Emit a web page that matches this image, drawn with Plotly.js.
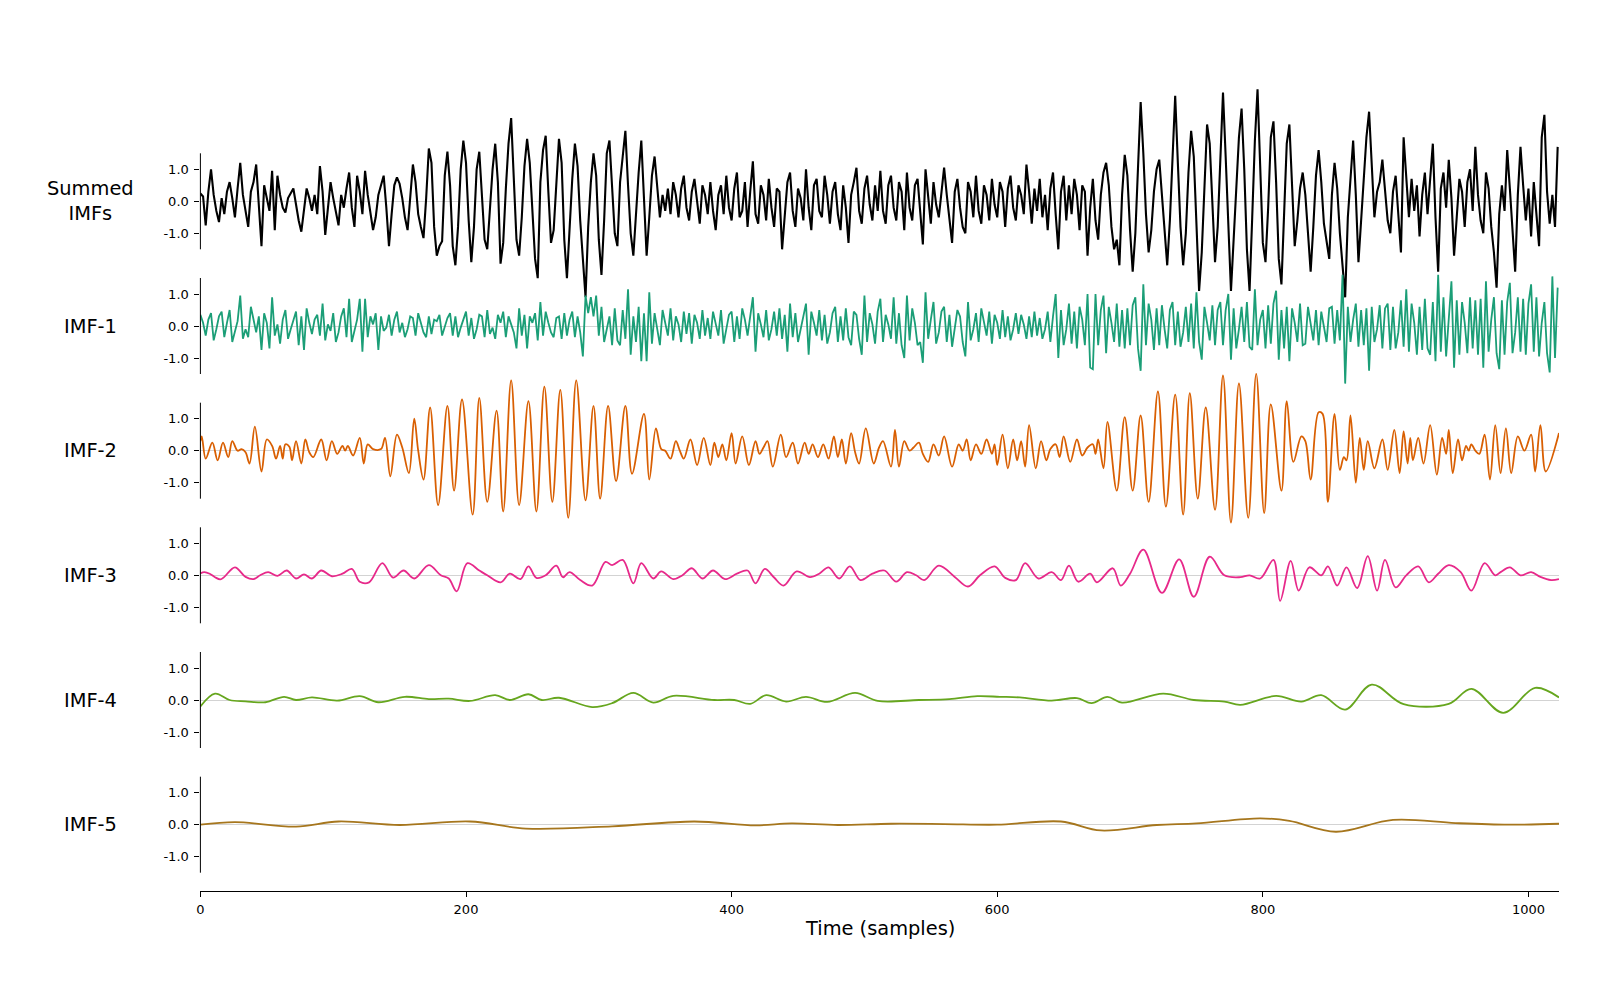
<!DOCTYPE html>
<html>
<head>
<meta charset="utf-8">
<script src="https://cdn.plot.ly/plotly-3.0.1.min.js"></script>
<style>
  html, body { margin: 0; padding: 0; background: #fff; }
  #chart { width: 1600px; height: 1000px; }
</style>
</head>
<body>
<div id="chart"></div>
<script>
// Empirical mode decomposition of a 1024-sample signal: summed IMFs and the five modes.

const rowLabels = ['Summed<br>IMFs', 'IMF-1', 'IMF-2', 'IMF-3', 'IMF-4', 'IMF-5'];
const rowColors = ['#000000', '#1b9e77', '#d95f02', '#e7298a', '#66a61e', '#a6761d'];
const yTickVals = [-1, 0, 1];
const yTickText = ['-1.0', '0.0', '1.0'];
const xTickVals = [0, 200, 400, 600, 800, 1000];
const xTickText = ['0', '200', '400', '600', '800', '1000'];
const xTitle = 'Time (samples)';

// Sample spacing for the densely sampled series (summed IMFs and IMF-1)
const sampleStep = 2;

const summedIMFs = [
  0.25, 0.15, -0.75, 0.3, 1.0, 0.2, -0.3, -0.65, 0.1, -0.4, 0.3, 0.6, 0.1, -0.5, 0.4, 1.2, 0.2, -0.3, -0.8, 0.3, 0.6, 1.15, -0.2, -1.4, 0.5, 0.1, -0.3, 0.95, -0.9, 0.8, 0.2, -0.2,
  -0.35, 0.1, 0.25, 0.4, -0.1, -0.6, -0.95, -0.2, 0.4, 0.1, -0.3, 0.2, -0.4, 1.1, 0.3, -1.05, -0.3, 0.6, 0.1, -0.3, -0.75, 0.2, -0.2, 0.4, 0.9, -0.2, -0.8, 0.8, 0.3, -0.4, 0.95, 0.2,
  -0.3, -0.9, -0.5, 0.2, 0.5, 0.8, -0.2, -1.4, -0.4, 0.5, 0.75, 0.55, 0.1, -0.5, -0.9, 0.2, 1.15, 0.6, -0.4, -0.8, -1.15, 0.1, 1.65, 1.2, -0.8, -1.7, -1.4, -1.25, 0.8, 1.55, 0.5, -1.4,
  -2.0, -0.8, 1.0, 1.9, 1.2, -0.6, -1.9, -0.8, 1.0, 1.55, 0.3, -1.2, -1.5, -0.3, 1.0, 1.8, 0.6, -1.95, -1.3, 0.4, 1.8, 2.6, 0.5, -1.2, -1.7, -0.5, 1.1, 1.95, 1.2, -0.5, -1.8, -2.4,
  0.6, 1.6, 2.05, 0.3, -1.3, -0.9, 0.4, 1.95, 1.2, -1.2, -2.4, -0.8, 0.7, 1.8, 1.1, -0.6, -1.8, -3.0, -0.8, 0.6, 1.5, 0.8, -1.2, -2.3, -0.6, 1.5, 1.9, 0.4, -1.0, -1.4, 0.6, 1.4,
  2.2, 0.5, -1.0, -1.7, -0.3, 0.9, 1.9, 0.2, -1.7, -0.5, 0.8, 1.4, 0.3, -0.5, 0.2, -0.3, 0.4, -0.4, 0.6, 0.2, -0.5, 0.4, 0.8, -0.2, -0.6, 0.3, 0.7, -0.1, -0.7, 0.5, 0.2, -0.4,
  0.6, -0.3, -0.9, 0.2, 0.5, -0.4, 0.8, -0.2, -0.6, 0.4, 0.9, -0.5, -0.3, 0.6, -0.8, 0.3, 1.25, -0.4, -0.7, 0.5, 0.2, -0.6, 0.7, -0.2, -0.8, 0.4, 0.3, -1.5, -0.4, 0.6, 0.9, -0.3,
  -0.8, 0.4, 0.1, -0.6, 1.0, -0.2, -0.9, 0.5, 0.7, -0.3, -0.5, 0.8, 0.2, -0.7, 0.3, 0.6, -0.4, -0.9, 0.5, -0.2, -1.3, 0.2, 0.6, 1.05, -0.3, -0.7, 0.4, 0.8, -0.1, -0.6, 0.5, -0.3,
  0.95, -0.3, -0.7, 0.5, 0.8, -0.2, -0.6, 0.6, 0.3, -0.9, 0.9, -0.2, -0.6, 0.5, 0.7, -0.3, -1.35, 1.0, 0.2, -0.7, 0.6, -0.1, -0.5, 0.4, 1.05, 0.2, -0.6, -1.3, 0.3, 0.7, -0.2, -0.8,
  -1.0, 0.6, 0.3, -0.5, 0.8, -0.3, -0.7, 0.5, 0.2, -0.6, 0.7, -0.1, -0.5, 0.6, 0.3, -0.8, 0.4, 0.8, -0.2, -0.6, 0.5, 0.2, -0.4, 1.15, 0.3, -0.7, 0.4, -0.3, 0.7, -0.5, 0.2, -0.9,
  0.4, 0.9, -0.4, -1.5, 0.3, 0.8, -0.6, 0.5, -0.4, 0.7, 0.2, -0.9, 0.5, 0.3, -1.7, -0.2, 0.7, -0.6, -1.2, 0.2, 0.9, 1.2, 0.5, -0.8, -1.5, -1.2, -2.0, 0.2, 1.45, 0.8, -0.9, -2.2,
  -1.0, 1.2, 3.1, 1.5, -0.4, -1.6, -0.9, 0.3, 1.0, 1.3, 0.2, -1.2, -2.0, -0.6, 1.5, 3.3, 1.2, -0.8, -2.0, -1.0, 0.9, 2.2, 1.4, -0.6, -2.8, -1.6, 0.6, 2.4, 1.8, -0.3, -1.9, -0.8,
  1.2, 3.4, 1.4, -0.8, -2.8, -1.2, 0.5, 2.0, 2.9, 1.0, -1.5, -2.8, -0.5, 1.9, 3.5, 0.8, -1.3, -1.9, -0.2, 2.0, 2.5, 0.6, -1.8, -2.6, -0.3, 1.8, 2.4, 0.3, -1.4, -0.6, 0.4, 0.9,
  0.2, -1.0, -2.2, -0.8, 0.8, 1.6, 0.6, -0.7, -1.2, -1.8, 0.2, 1.2, 0.4, -1.0, -2.0, -3.0, -0.5, 0.8, 1.9, 0.2, -1.9, -0.6, 0.9, 2.0, 2.8, 0.9, -0.5, 0.3, 0.6, 1.3, 0.2, -0.6,
  -1.0, 0.3, 0.8, -0.4, -1.6, 2.0, 0.6, -0.5, 0.7, -0.3, 0.5, -1.1, 0.2, 0.9, -0.4, 0.6, 1.8, -0.5, -2.2, 0.4, 0.9, -0.2, 1.3, 0.1, -1.7, -0.5, 0.7, 0.3, -0.8, 0.6, 1.0, -0.3,
  1.7, 0.2, -0.6, -1.0, 0.9, 0.4, -0.8, -1.6, -2.7, -0.4, 0.5, -0.3, 1.6, 0.4, -0.9, -2.2, 0.2, 1.7, 0.5, -0.6, 0.4, -1.1, 0.6, -0.5, -1.4, 2.0, 2.7, 0.3, -0.7, 0.2, -0.8, 1.7
];

const imf1 = [
  0.35, 0.1, -0.3, 0.2, 0.4, -0.45, -0.1, 0.3, 0.45, -0.35, 0.1, 0.5, -0.5, -0.2, 0.15, 0.95, -0.4, -0.1, -0.35, 0.6, 0.2, -0.2, 0.3, -0.75, 0.4, 0.1, -0.7, 0.9, -0.3, 0.05, -0.55, 0.2,
  0.5, -0.4, -0.1, 0.15, 0.45, -0.6, 0.3, -0.75, 0.55, 0.1, -0.25, 0.2, 0.35, -0.3, 0.7, -0.45, 0.05, -0.15, 0.4, -0.5, -0.2, 0.3, 0.55, -0.35, 0.85, -0.5, -0.1, 0.2, 0.85, -0.8, 0.85, -0.35,
  0.3, 0.05, 0.4, -0.75, 0.3, -0.15, -0.05, 0.35, -0.3, 0.2, 0.45, -0.2, 0.1, -0.35, -0.1, 0.3, 0.25, -0.3, 0.4, 0.1, -0.2, -0.35, 0.3, -0.25, 0.2, 0.15, 0.35, -0.3, -0.05, 0.25, 0.4, -0.3,
  0.3, -0.35, -0.05, 0.2, 0.45, -0.3, 0.25, -0.4, -0.1, 0.35, 0.3, -0.35, 0.5, -0.25, -0.05, -0.4, 0.35, 0.1, 0.45, -0.35, 0.3, 0.05, -0.2, -0.7, 0.55, -0.3, 0.35, -0.7, 0.3, 0.1, 0.4, -0.45,
  0.75, -0.3, 0.45, 0.1, -0.2, -0.35, 0.25, 0.3, -0.4, 0.4, -0.3, 0.2, 0.45, -0.35, 0.3, -0.2, -0.95, 0.95, 0.4, 0.9, 0.3, 0.95, -0.3, 0.6, -0.5, -0.1, 0.3, -0.6, 0.55, -0.45, -0.6, 0.5,
  -0.4, 1.15, -0.9, 0.3, -0.5, 0.6, -1.1, 0.4, -1.1, 1.05, -0.55, 0.4, -0.1, -0.6, 0.5, 0.1, -0.3, 0.55, -0.45, 0.3, 0.05, -0.5, 0.45, -0.25, 0.4, -0.55, 0.35, 0.1, -0.4, 0.5, -0.3, 0.25,
  -0.4, 0.45, 0.1, -0.3, 0.5, -0.55, -0.1, 0.35, 0.45, -0.5, 0.3, -0.4, 0.55, 0.2, -0.3, 0.3, 0.9, -0.8, 0.4, 0.05, -0.35, 0.5, -0.45, -0.1, 0.45, -0.3, 0.55, -0.4, 0.35, -0.8, 0.7, -0.35,
  0.4, -0.5, -0.1, 0.3, 0.7, -0.9, 0.45, 0.1, -0.3, 0.5, -0.45, 0.35, -0.55, -0.2, 0.4, 0.6, -0.5, 0.3, -0.45, 0.55, -0.35, -0.6, 0.45, 0.35, -0.4, -0.9, 0.95, -0.5, 0.4, 0.05, -0.55, 0.45,
  0.85, -0.5, 0.35, 0.05, -0.4, 0.9, -0.55, 0.4, -0.6, -1.0, 0.95, -0.45, 0.55, 0.1, -0.6, -0.5, -1.15, 1.05, -0.4, 0.2, 0.75, -0.55, -0.2, 0.45, 0.6, -0.5, 0.35, -0.65, -0.1, 0.5, 0.3, -0.5,
  -0.95, 0.75, -0.45, -0.1, 0.4, -0.5, 0.55, 0.1, -0.3, 0.45, -0.55, 0.35, 0.1, -0.4, 0.5, -0.35, 0.3, -0.45, -0.1, 0.4, -0.25, 0.35, 0.05, -0.4, 0.3, -0.35, 0.45, -0.3, 0.25, -0.4, -0.1, 0.45,
  -0.5, 0.3, 1.0, -1.0, 0.5, -0.6, -0.1, 0.7, -0.55, 0.45, -0.7, 0.6, 0.2, -0.6, 1.0, -1.3, -1.35, 1.0, -0.6, 0.5, 0.95, -0.85, 0.6, 0.1, -0.5, 0.7, -0.65, 0.5, -0.7, 0.55, -0.6, 0.65,
  0.9, -0.7, -1.4, 1.3, -0.6, 0.7, 0.2, -0.75, 0.55, -0.6, 0.65, -0.1, -0.7, 0.5, 0.75, -0.6, 0.45, -0.65, -0.2, 0.6, -0.5, 0.7, -0.7, 1.05, -0.5, -1.05, 0.6, 0.1, -0.45, 0.65, -0.6, 0.5,
  0.75, -0.6, 0.5, 1.0, -1.05, 0.55, -0.7, -0.1, 0.6, -0.5, 0.75, -0.65, -0.75, 1.15, -0.6, 0.2, 0.5, -0.7, 0.65, -0.55, 0.7, 1.1, -1.05, 0.5, -0.7, 0.6, -1.1, 0.55, 0.1, -0.5, 0.7, -0.6,
  -0.55, 0.6, 0.1, -0.45, 0.5, -0.6, 0.45, -0.1, -0.5, 0.55, 0.6, -0.55, 0.5, -0.45, 1.6, -1.8, 0.6, -0.5, 0.2, 0.7, -0.65, 0.5, -0.6, 0.55, -1.4, 0.6, -0.5, -0.1, 0.65, -0.7, 0.55, 0.7,
  -0.75, 0.6, -0.7, -0.2, 0.8, -0.65, 1.15, -0.8, 0.7, 0.1, -0.9, 0.6, -0.75, 0.85, -0.7, -0.9, 0.75, -1.1, 1.6, -0.8, 0.9, -0.95, 0.2, 1.4, -1.3, 0.8, -0.9, 0.75, 0.1, -0.85, 0.9, -0.7,
  0.8, -0.9, 0.85, -1.3, 1.4, -0.8, 0.2, 0.9, -0.85, -1.35, 0.8, -0.9, 0.75, 1.35, -0.85, -0.2, 0.9, -0.8, 0.85, -0.9, 0.7, 1.3, -0.8, 0.9, -0.95, 0.1, 0.75, -0.85, -1.45, 1.55, -1.0, 1.2
];

// IMF-2 turning points (sample, amplitude)
const imf2Samples = [
  0, 1, 4, 9, 13, 17, 21, 24, 28, 31, 34, 37, 41, 46, 50, 54, 57, 60, 62, 64, 67, 69, 72, 76, 79, 82, 85, 91, 95, 99,
  103, 107, 109, 111, 115, 120, 123, 126, 130, 136, 139, 143, 148, 152, 157, 161, 164, 168, 173, 179, 186, 191, 197, 205, 210, 216, 223, 228, 234, 240,
  247, 253, 259, 265, 271, 277, 283, 290, 296, 301, 307, 313, 320, 325, 334, 338, 343, 347, 350, 354, 358, 361, 364, 369, 374, 379, 384, 387, 390, 393,
  396, 400, 403, 408, 413, 418, 421, 424, 427, 431, 437, 441, 446, 450, 455, 458, 461, 465, 469, 473, 477, 480, 483, 486, 490, 493, 496, 501, 507, 511,
  514, 520, 523, 526, 530, 534, 537, 541, 544, 548, 552, 556, 560, 566, 571, 574, 577, 580, 584, 588, 592, 596, 598, 600, 604, 608, 612, 615, 618, 621,
  624, 629, 633, 637, 640, 644, 647, 650, 655, 660, 664, 668, 672, 674, 676, 680, 683, 690, 696, 702, 708, 714, 721, 727, 734, 740, 745, 751, 757, 764,
  770, 776, 782, 789, 795, 801, 806, 814, 818, 823, 829, 832, 836, 842, 845, 849, 854, 858, 861, 863, 866, 870, 873, 876, 879, 884, 890, 894, 899, 903,
  906, 909, 911, 913, 917, 921, 926, 931, 935, 938, 940, 943, 947, 950, 953, 955, 957, 960, 963, 967, 971, 975, 979, 983, 987, 992, 997, 1002, 1005, 1009,
  1013, 1023
];
const imf2Values = [
  0.3, 0.45, -0.25, 0.25, -0.3, 0.25, -0.2, 0.3, 0.0, 0.05, -0.05, -0.4, 0.75, -0.65, 0.35, 0.15, -0.25, 0.15, -0.25, 0.2, 0.12, -0.3, 0.3, -0.4, 0.35, -0.05, -0.2, 0.35, -0.3, 0.3,
  -0.1, 0.15, 0.0, 0.15, -0.15, 0.4, -0.4, 0.2, 0.05, 0.05, 0.4, -0.8, 0.5, 0.1, -0.7, 1.0, 0.0, -0.9, 1.35, -1.7, 1.4, -1.25, 1.6, -2.0, 1.65, -1.6, 1.25, -1.9, 2.2, -1.7,
  1.55, -1.9, 2.0, -1.6, 1.9, -2.1, 2.2, -1.55, 1.4, -1.5, 1.4, -0.95, 1.4, -0.72, 1.15, -0.9, 0.7, 0.05, 0.0, -0.25, 0.3, 0.0, -0.25, 0.35, -0.45, 0.4, -0.45, 0.25, -0.2, 0.2,
  -0.3, 0.55, -0.4, 0.45, -0.45, 0.3, -0.1, 0.1, 0.3, -0.5, 0.5, -0.2, 0.25, -0.4, 0.25, -0.1, 0.2, -0.2, 0.2, -0.25, 0.45, -0.2, 0.35, -0.4, 0.55, -0.05, -0.4, 0.7, -0.4, 0.1,
  0.3, -0.5, 0.65, -0.5, 0.3, 0.0, 0.1, 0.25, -0.1, -0.35, 0.2, -0.15, 0.45, -0.5, 0.2, 0.0, 0.35, -0.3, 0.2, -0.1, 0.35, -0.1, 0.2, -0.45, 0.5, -0.55, 0.35, -0.3, 0.3, -0.5,
  0.8, -0.55, 0.3, -0.3, 0.05, 0.2, -0.2, 0.45, -0.35, 0.35, -0.15, 0.1, 0.2, -0.1, 0.35, -0.55, 0.9, -1.25, 1.05, -1.25, 1.1, -1.6, 1.85, -1.75, 1.75, -2.0, 1.8, -1.5, 1.35, -1.85,
  2.35, -2.25, 2.1, -2.1, 2.4, -1.95, 1.45, -1.25, 1.55, -0.35, 0.45, 0.3, -0.9, 1.2, 1.15, -1.6, 1.15, -0.6, -0.2, -0.3, 1.1, -1.0, 0.4, -0.6, 0.3, -0.55, 0.35, -0.6, 0.65, -0.7,
  0.6, -0.4, 0.4, -0.3, 0.4, -0.4, 0.8, -0.75, 0.4, -0.1, 0.65, -0.7, 0.35, -0.3, 0.15, 0.0, 0.2, 0.0, -0.1, 0.5, -0.9, 0.8, -0.7, 0.7, -0.7, 0.45, 0.0, 0.5, -0.65, 0.8,
  -0.65, 0.55
];

// IMF-3 turning points
const imf3Samples = [
  0, 3, 7, 11, 15, 18, 26, 34, 40, 45, 51, 58, 65, 72, 78, 84, 91, 99, 107, 114, 120, 127, 137, 145, 153, 161, 172, 181, 187, 193,
  201, 210, 216, 226, 233, 241, 247, 253, 260, 268, 273, 278, 286, 295, 305, 310, 318, 326, 332, 341, 347, 356, 363, 370, 378, 386, 395, 404, 412, 418,
  425, 432, 439, 449, 459, 466, 473, 481, 489, 497, 506, 515, 524, 532, 539, 545, 556, 568, 578, 587, 598, 606, 614, 621, 631, 641, 648, 654, 661, 670,
  675, 687, 693, 700, 710, 724, 737, 748, 760, 771, 783, 790, 798, 808, 813, 821, 827, 835, 844, 849, 856, 863, 871, 879, 886, 892, 900, 908, 917, 925,
  932, 940, 949, 957, 967, 975, 979, 986, 994, 1002, 1009, 1017, 1023
];
const imf3Values = [
  0.06, 0.1, 0.05, -0.06, -0.13, -0.05, 0.25, -0.05, -0.12, 0.0, 0.1, -0.02, 0.15, -0.1, 0.03, -0.1, 0.15, -0.03, 0.05, 0.2, -0.2, -0.22, 0.38, -0.07, 0.15, -0.1, 0.32, 0.0, -0.1, -0.5,
  0.38, 0.15, 0.0, -0.22, 0.05, -0.12, 0.28, -0.08, 0.0, 0.3, -0.06, 0.1, -0.15, -0.32, 0.42, 0.32, 0.48, -0.25, 0.38, -0.1, 0.12, -0.12, 0.0, 0.22, -0.1, 0.15, -0.12, 0.05, 0.15, -0.25,
  0.2, -0.07, -0.32, 0.12, -0.06, 0.05, 0.25, -0.1, 0.28, -0.15, 0.05, 0.15, -0.2, 0.1, 0.0, -0.15, 0.3, -0.05, -0.35, 0.0, 0.28, -0.08, -0.15, 0.38, -0.1, 0.1, -0.15, 0.3, -0.2, 0.05,
  -0.22, 0.22, -0.32, 0.05, 0.8, -0.55, 0.5, -0.67, 0.58, 0.0, -0.06, 0.0, -0.1, 0.48, -0.8, 0.45, -0.48, 0.25, 0.0, 0.28, -0.32, 0.25, -0.4, 0.6, -0.48, 0.48, -0.38, 0.0, 0.28, -0.22,
  0.05, 0.32, 0.1, -0.48, 0.38, 0.0, 0.1, 0.25, 0.0, 0.1, -0.05, -0.15, -0.12
];

// IMF-4 turning points
const imf4Samples = [
  0, 11, 22, 34, 49, 63, 72, 84, 103, 120, 134, 154, 172, 187, 203, 222, 233, 247, 257, 270, 295, 310, 326, 341, 356, 387, 402, 414, 426, 441,
  456, 472, 493, 510, 541, 564, 585, 602, 617, 641, 660, 671, 683, 694, 725, 748, 771, 783, 810, 829, 844, 862, 882, 906, 940, 957, 981, 1005, 1023
];
const imf4Values = [
  -0.2, 0.2, 0.0, -0.04, -0.07, 0.1, 0.0, 0.08, -0.02, 0.12, -0.07, 0.1, 0.03, 0.04, -0.03, 0.15, 0.0, 0.18, 0.0, 0.07, -0.22, -0.1, 0.22, -0.08, 0.13, 0.0, 0.0, -0.12, 0.15, -0.05,
  0.1, -0.06, 0.22, -0.03, 0.0, 0.03, 0.12, 0.1, 0.08, -0.02, 0.06, -0.1, 0.1, -0.08, 0.2, 0.0, -0.05, -0.15, 0.13, -0.05, 0.15, -0.3, 0.48, -0.13, -0.12, 0.35, -0.4, 0.38, 0.08
];

// IMF-5 turning points
const imf5Samples = [0, 26, 72, 104, 150, 203, 245, 310, 372, 418, 445, 480, 520, 560, 600, 648, 678, 720, 750, 798, 820, 855, 898, 945, 985, 1023];
const imf5Values = [0.0, 0.08, -0.06, 0.1, -0.01, 0.1, -0.12, -0.05, 0.1, -0.02, 0.04, -0.01, 0.03, 0.02, 0.0, 0.1, -0.18, -0.01, 0.04, 0.2, 0.12, -0.22, 0.15, 0.05, 0.0, 0.03];

// ---- layout geometry (pixels in a 1600 x 1000 page) ----
const W = 1600, H = 1000;
const plotLeft = 200.4, plotRight = 1559;
const unitPx = 32;                                     // pixels per amplitude unit
const rowCenter = [201.3, 326, 450.7, 575.3, 700, 824.7];
const rowTop = [70, 250, 370, 500, 620, 740];
const rowBottom = [310, 400, 530, 650, 780, 890.5];
const xRange = [0, 1023];

const rowSeries = [
  { y: summedIMFs, x0: 0, dx: sampleStep, shape: 'linear', width: 2.1 },
  { y: imf1, x0: 0, dx: sampleStep, shape: 'linear', width: 1.8 },
  { x: imf2Samples, y: imf2Values, shape: 'spline', width: 1.8 },
  { x: imf3Samples, y: imf3Values, shape: 'spline', width: 1.8 },
  { x: imf4Samples, y: imf4Values, shape: 'spline', width: 1.8 },
  { x: imf5Samples, y: imf5Values, shape: 'spline', width: 1.8 }
];

const font = 'DejaVu Sans, sans-serif';
const labelSize = 19.4;
const tickSize = 13;
const traces = [];
const layout = {
  width: W, height: H,
  margin: { l: 0, r: 0, t: 0, b: 0 },
  paper_bgcolor: '#ffffff',
  plot_bgcolor: 'rgba(0,0,0,0)',
  showlegend: false,
  hovermode: false,
  font: { family: font, color: '#000000' },
  shapes: [],
  annotations: []
};

rowSeries.forEach((s, i) => {
  const n = i + 1;
  const xa = n === 1 ? 'x' : 'x' + n;
  const ya = n === 1 ? 'y' : 'y' + n;
  const tr = {
    type: 'scatter', mode: 'lines',
    xaxis: xa, yaxis: ya,
    line: { color: rowColors[i], width: s.width, shape: s.shape, smoothing: 1 },
    y: s.y
  };
  if (s.x) { tr.x = s.x; } else { tr.x0 = s.x0; tr.dx = s.dx; }
  traces.push(tr);

  const isBottom = i === rowSeries.length - 1;
  layout['xaxis' + (n === 1 ? '' : n)] = {
    domain: [plotLeft / W, plotRight / W],
    range: xRange,
    anchor: ya,
    showgrid: false, zeroline: false,
    showline: isBottom, linecolor: '#000000', linewidth: 1,
    ticks: isBottom ? 'outside' : '', ticklen: 5, tickwidth: 1, tickcolor: '#000000',
    showticklabels: isBottom,
    tickmode: 'array', tickvals: xTickVals, ticktext: xTickText,
    tickfont: { family: font, size: tickSize, color: '#000000' },
    ticklabelstandoff: 2,
    fixedrange: true
  };
  const c = rowCenter[i];
  layout['yaxis' + (n === 1 ? '' : n)] = {
    domain: [1 - rowBottom[i] / H, 1 - rowTop[i] / H],
    range: [-(rowBottom[i] - c) / unitPx, (c - rowTop[i]) / unitPx],
    anchor: xa,
    showgrid: false,
    zeroline: true, zerolinecolor: '#d3d3d3', zerolinewidth: 1,
    showline: false,
    ticks: 'outside', ticklen: 5, tickwidth: 1, tickcolor: '#000000',
    tickmode: 'array', tickvals: yTickVals, ticktext: yTickText,
    tickfont: { family: font, size: tickSize, color: '#000000' },
    ticklabelstandoff: 3,
    fixedrange: true
  };
  // left spine limited to the -1.5 .. 1.5 band
  layout.shapes.push({
    type: 'line', xref: xa + ' domain', yref: ya,
    x0: 0, x1: 0, y0: -1.5, y1: 1.5,
    line: { color: '#000000', width: 1 }
  });
  layout.annotations.push({
    xref: 'paper', yref: 'paper',
    x: 90 / W, y: 1 - c / H,
    xanchor: 'center', yanchor: 'middle',
    text: rowLabels[i], showarrow: false, align: 'center',
    font: { family: font, size: labelSize, color: '#000000' }
  });
});

layout.annotations.push({
  xref: 'paper', yref: 'paper',
  x: (plotLeft + plotRight) / 2 / W, y: 1 - 928 / H,
  xanchor: 'center', yanchor: 'middle',
  text: xTitle, showarrow: false,
  font: { family: font, size: labelSize, color: '#000000' }
});

Plotly.newPlot('chart', traces, layout, { staticPlot: true, displayModeBar: false });
</script>
</body>
</html>
